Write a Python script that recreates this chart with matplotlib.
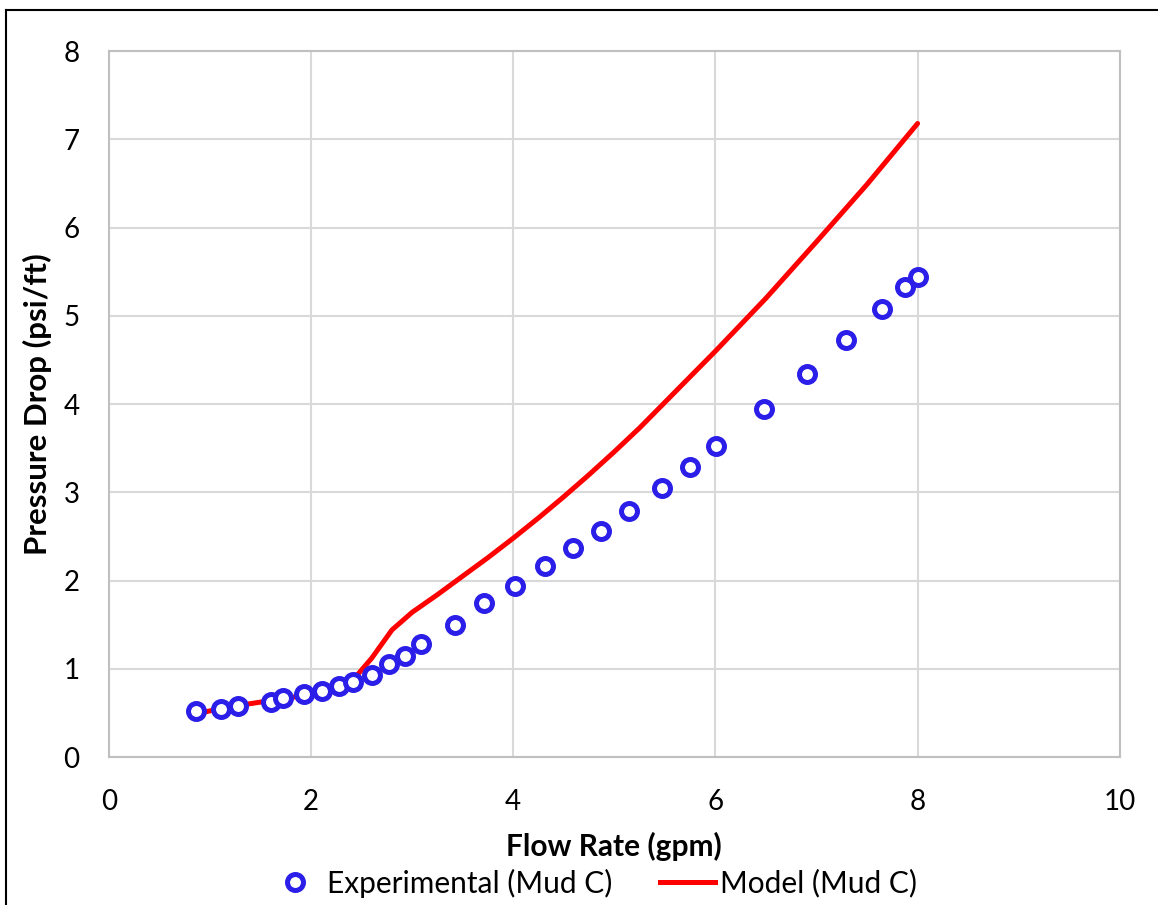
import matplotlib.pyplot as plt
from matplotlib.lines import Line2D

plt.rcParams['font.family'] = ['Lato', 'DejaVu Sans']

# experimental data (Mud C)
exp_q = [0.86, 1.11, 1.28, 1.60, 1.72, 1.93, 2.11, 2.28, 2.42, 2.60, 2.77, 2.93, 3.09,
         3.42, 3.71, 4.02, 4.31, 4.59, 4.87, 5.15, 5.47, 5.75, 6.01, 6.48, 6.91, 7.29,
         7.65, 7.88, 8.00]
exp_dp = [0.52, 0.55, 0.58, 0.62, 0.67, 0.71, 0.75, 0.80, 0.85, 0.93, 1.05, 1.15, 1.28,
          1.50, 1.74, 1.94, 2.16, 2.37, 2.56, 2.79, 3.05, 3.29, 3.52, 3.94, 4.34, 4.73,
          5.08, 5.33, 5.44]

# model curve (Mud C)
model_q = [0.86, 1.2, 1.6, 2.0, 2.3, 2.42, 2.6, 2.8, 3.0, 3.25, 3.5, 3.75, 4.0, 4.25,
           4.5, 4.75, 5.0, 5.25, 5.5, 5.75, 6.0, 6.5, 7.0, 7.5, 8.0]
model_dp = [0.49, 0.57, 0.64, 0.71, 0.80, 0.88, 1.12, 1.44, 1.64, 1.84, 2.05, 2.26,
            2.48, 2.71, 2.95, 3.20, 3.46, 3.73, 4.02, 4.31, 4.60, 5.20, 5.84, 6.49, 7.18]

fig = plt.figure(figsize=(11.58, 9.05), dpi=100)
ax = fig.add_axes([0.094, 0.1635, 0.873, 0.780])

ax.plot(model_q, model_dp, color='#FF0000', lw=3.6, zorder=2,
        solid_capstyle='round', solid_joinstyle='round')
ax.plot(exp_q, exp_dp, ls='none', marker='o', ms=11.5, mew=3.6, mfc='white',
        mec='#2B1EE8', zorder=3)

ax.set_xlim(0, 10)
ax.set_ylim(0, 8)
ax.set_xticks(range(0, 11, 2))
ax.set_yticks(range(0, 9))
ax.grid(True, color='#D9D9D9', lw=1.5)
ax.set_axisbelow(True)
for s in ax.spines.values():
    s.set_color('#BFBFBF')
    s.set_linewidth(1.5)
ax.tick_params(length=0, labelsize=20)
ax.tick_params(axis='x', pad=23)
ax.tick_params(axis='y', pad=21)

ax.set_xlabel('Flow Rate (gpm)', fontsize=21.5, fontweight='bold', labelpad=12)
ax.set_ylabel('Pressure Drop (psi/ft)', fontsize=22.5, fontweight='bold', labelpad=8)

handles = [
    Line2D([], [], ls='none', marker='o', ms=11.5, mew=3.6, mfc='white', mec='#2B1EE8'),
    Line2D([], [], color='#FF0000', lw=3.6),
]
fig.legend(handles, ['Experimental (Mud C)', 'Model (Mud C)'], loc='center',
           bbox_to_anchor=(0.511, 0.024), ncol=2, frameon=False, fontsize=21.5,
           handlelength=1.85, handletextpad=0.15, columnspacing=1.6,
           borderaxespad=0, borderpad=0)

# outer frame (left and top edges only)
fig.add_artist(Line2D([6 / 1158, 6 / 1158], [0, 1 - 10 / 905], transform=fig.transFigure,
                      color='black', lw=1.5))
fig.add_artist(Line2D([6 / 1158, 1], [1 - 10 / 905, 1 - 10 / 905], transform=fig.transFigure,
                      color='black', lw=1.5))

fig.savefig('out.png', dpi=100)
